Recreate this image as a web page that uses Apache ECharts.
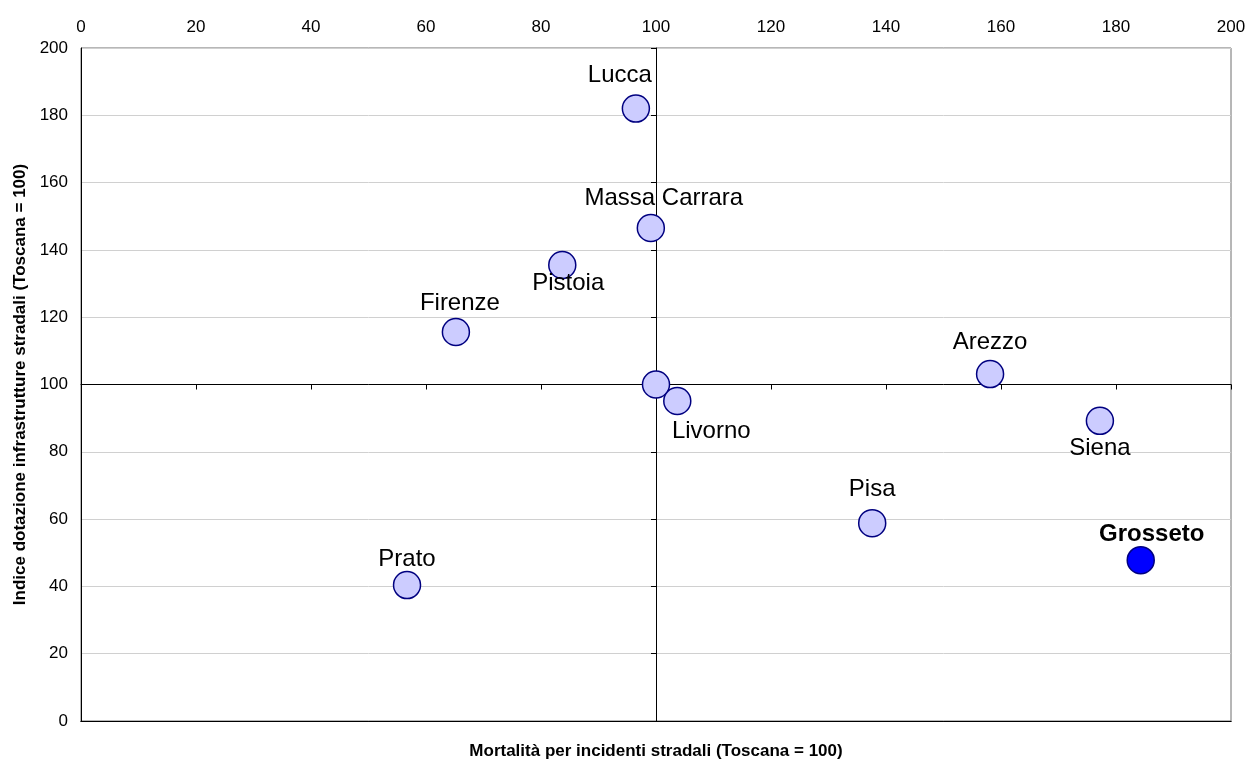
<!DOCTYPE html>
<html>
<head>
<meta charset="utf-8">
<script src="https://cdn.jsdelivr.net/npm/echarts@6/dist/echarts.min.js"></script>
<style>
  html, body { margin: 0; padding: 0; background: #ffffff; }
  #chart { width: 1248px; height: 763px; }
</style>
</head>
<body>
<div id="chart"></div>
<script>
// Provinces of Tuscany: road mortality vs road infrastructure index (Toscana = 100)
const provinces = ['Lucca', 'Massa Carrara', 'Pistoia', 'Firenze', 'Toscana', 'Livorno', 'Arezzo', 'Siena', 'Pisa', 'Grosseto', 'Prato'];
const mortality = [96.5, 99.1, 83.7, 65.2, 100, 103.7, 158.1, 177.2, 137.6, 184.3, 56.7];
const infrastructure = [182, 146.5, 135.5, 115.6, 100, 95.1, 103.1, 89.2, 58.8, 47.8, 40.4];
const axisMin = 0;
const axisMax = 200;
const axisStep = 20;
const highlighted = 'Grosseto';
const reference = 'Toscana';

// label placement around each marker (pixel offsets from the marker centre)
const labelOffsets = {
  'Lucca': [-16, -33],
  'Massa Carrara': [13, -30],
  'Pistoia': [6, 18],
  'Firenze': [4, -29],
  'Livorno': [34, 30],
  'Arezzo': [0, -32],
  'Siena': [0, 28],
  'Pisa': [0, -34],
  'Grosseto': [11, -26],
  'Prato': [0, -26]
};

const FONT = 'Arial, "Liberation Sans", Helvetica, sans-serif';
const gridLeft = 81, gridRight = 17, gridTop = 48, gridBottom = 42;
const plotW = 1248 - gridLeft - gridRight;
const plotH = 763 - gridTop - gridBottom;

const points = provinces.map((name, i) => {
  const item = { name: name, value: [mortality[i], infrastructure[i]] };
  if (name === reference) {
    item.label = { show: false };
  } else {
    item.label = { offset: labelOffsets[name] || [0, -30] };
  }
  if (name === highlighted) {
    item.itemStyle = { color: '#0000ff' };
    item.label.fontWeight = 'bold';
  }
  return item;
});

const baseAxis = { type: 'value', min: axisMin, max: axisMax, interval: axisStep };
const blackLine = { show: true, lineStyle: { color: '#000000', width: 1 } };

const chart = echarts.init(document.getElementById('chart'), null, { renderer: 'canvas' });
chart.setOption({
  animation: false,
  backgroundColor: '#ffffff',
  textStyle: { fontFamily: FONT },
  grid: {
    left: gridLeft, right: gridRight, top: gridTop, bottom: gridBottom,
    outerBoundsMode: 'none',
    show: true, borderColor: '#6e6e6e', borderWidth: 1, backgroundColor: 'transparent'
  },
  xAxis: [
    Object.assign({}, baseAxis, {
      position: 'top',
      axisLine: blackLine,
      axisTick: { show: false },
      axisLabel: { fontSize: 17, color: '#000000', margin: 12, fontFamily: FONT },
      splitLine: { show: false }
    }),
    // crossing axis at y = 100
    Object.assign({}, baseAxis, {
      position: 'bottom',
      offset: -plotH * (100 - axisMin) / (axisMax - axisMin),
      axisLine: blackLine,
      axisTick: { show: true, length: 5, lineStyle: { color: '#000000' } },
      axisLabel: { show: false },
      splitLine: { show: false }
    }),
    Object.assign({}, baseAxis, {
      position: 'bottom',
      axisLine: blackLine,
      axisTick: { show: false },
      axisLabel: { show: false },
      splitLine: { show: false },
      name: 'Mortalità per incidenti stradali (Toscana = 100)',
      nameLocation: 'middle',
      nameGap: 22,
      nameTextStyle: { fontSize: 17, fontWeight: 'bold', color: '#000000', fontFamily: FONT }
    })
  ],
  yAxis: [
    Object.assign({}, baseAxis, {
      position: 'left',
      axisLine: blackLine,
      axisTick: { show: false },
      axisLabel: { fontSize: 17, color: '#000000', margin: 13, fontFamily: FONT },
      splitLine: { show: true, lineStyle: { color: '#d0d0d0', width: 1 } },
      name: 'Indice dotazione infrastrutture stradali (Toscana = 100)',
      nameLocation: 'middle',
      nameGap: 52,
      nameRotate: 90,
      nameTextStyle: { fontSize: 17, fontWeight: 'bold', color: '#000000', fontFamily: FONT }
    }),
    // crossing axis at x = 100
    Object.assign({}, baseAxis, {
      position: 'left',
      offset: -plotW * (100 - axisMin) / (axisMax - axisMin),
      axisLine: blackLine,
      axisTick: { show: true, length: 5, lineStyle: { color: '#000000' } },
      axisLabel: { show: false },
      splitLine: { show: false }
    })
  ],
  series: [{
    type: 'scatter',
    xAxisIndex: 0,
    yAxisIndex: 0,
    symbol: 'circle',
    symbolSize: 27,
    itemStyle: { color: '#ccccff', borderColor: '#000080', borderWidth: 1.5, opacity: 1 },
    label: {
      show: true,
      position: 'inside',
      formatter: '{b}',
      fontSize: 24,
      color: '#000000',
      fontFamily: FONT
    },
    emphasis: { disabled: true },
    data: points
  }]
});
</script>
</body>
</html>
